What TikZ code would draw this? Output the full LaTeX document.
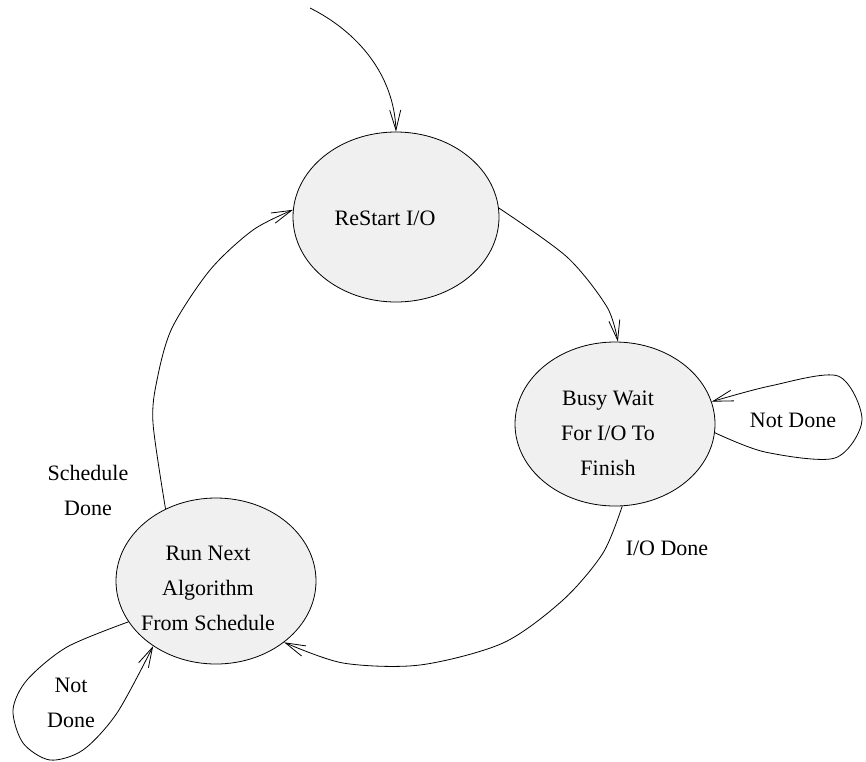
\documentclass[tikz,border=0pt]{standalone}
\usepackage{fontspec}
\setmainfont{Liberation Serif}
\newfontfamily\statefont{Liberation Serif}
\usetikzlibrary{arrows.meta,shapes.geometric}
\definecolor{statefill}{gray}{0.94}
\begin{document}
\begin{tikzpicture}[x=1pt,y=-1pt,
  state/.style={ellipse, draw, line width=0.8pt, fill=statefill, inner sep=0pt},
  txt/.style={font=\statefont\fontsize{22}{35}\selectfont, align=center},
  conn/.style={line width=0.8pt, -{Straight Barb[length=20pt,width=11pt]}}
]
\useasboundingbox (0,0) rectangle (866,761);

% states
\node[state, minimum width=206pt, minimum height=170pt,
  label={[txt, xshift=-11pt, yshift=-1pt]center:ReStart I/O}] (rs) at (396,217) {};
\node[state, minimum width=200pt, minimum height=164pt,
  label={[txt, xshift=-7pt, yshift=-9pt]center:Busy Wait\\For I/O To\\Finish}] (bw) at (615,424) {};
\node[state, minimum width=200pt, minimum height=166pt,
  label={[txt, xshift=-8pt, yshift=-7pt]center:Run Next\\Algorithm\\From Schedule}] (rn) at (216,581) {};

% entry point
\coordinate (entry) at (310,8);
\draw[conn] (entry) .. controls (358,32) and (394,75) .. (rs.north);

% ReStart -> Busy Wait
\draw[conn] plot[smooth] coordinates {(rs.5) (567,257) (607,307) (bw.88)};

% Busy Wait self loop
\draw[conn] plot[smooth] coordinates {(bw.-5) (765,452) (835,458) (862,420) (838,376) (770,386) (bw.13)};

% Busy Wait -> Run Next
\draw[conn] plot[smooth] coordinates {(bw.-85) (603,553) (563,600) (503,643) (420,665) (343,663) (rn.-42)};

% Run Next -> ReStart
\draw[conn] plot[smooth] coordinates {(rn.125) (153,423) (157,380) (172,328) (210,270) (253,230) (rs.176)};

% Run Next self loop
\draw[conn] plot[smooth] coordinates {(rn.-155) (67,647) (27,680) (13,710) (23,743) (50,760) (83,750) (117,713) (rn.-134)};

% transition labels
\node[txt] (lnd1) at (793,420) {Not Done};
\node[txt] (lio) at (667,548) {I/O Done};
\node[txt] (lsd) at (88,490) {Schedule\\Done};
\node[txt] (lnd2) at (71,703) {Not\\Done};
\end{tikzpicture}
\end{document}
